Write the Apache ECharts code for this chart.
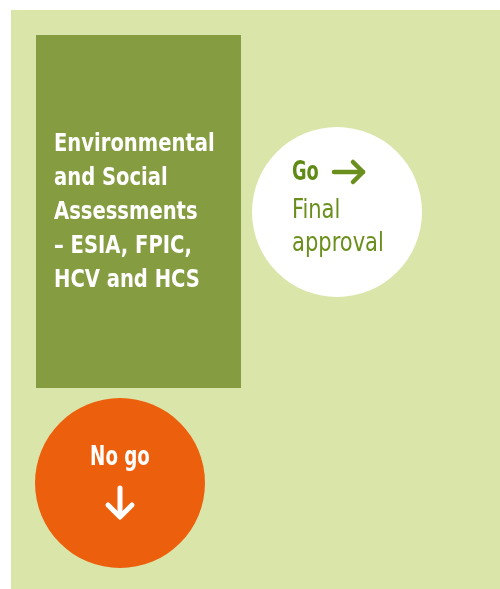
<!DOCTYPE html>
<html><head><meta charset="utf-8">
<script src="https://cdn.jsdelivr.net/npm/echarts@6/dist/echarts.min.js"></script>
<style>html,body{margin:0;padding:0;background:#fff}#c{width:500px;height:589px}</style>
</head><body><div id="c"></div>
<script>
var boxLines = ['Environmental', 'and Social', 'Assessments', '\u2013 ESIA, FPIC,', 'HCV and HCS'];
var goLabel = 'Go';
var goLines = ['Final', 'approval'];
var noGoLabel = 'No go';

var FONT = '"DejaVu Sans Condensed", "Liberation Sans Narrow", sans-serif';
var chart = echarts.init(document.getElementById('c'), null, {renderer: 'canvas'});
var g = [];
g.push({type: 'rect', shape: {x: 11, y: 10, width: 489, height: 579}, style: {fill: '#dae5a9'}});
g.push({type: 'rect', shape: {x: 36, y: 35, width: 205, height: 353}, style: {fill: '#859c41'}});
g.push({type: 'circle', shape: {cx: 337, cy: 212, r: 85}, style: {fill: '#ffffff'}});
g.push({type: 'circle', shape: {cx: 120, cy: 483, r: 85}, style: {fill: '#ec5f0c'}});
boxLines.forEach(function (t, i) {
  g.push({type: 'text', x: 54, y: 144 + i * 34, scaleX: 0.87, style: {text: t, fill: '#ffffff', font: 'bold 25px ' + FONT, verticalAlign: 'middle', align: 'left'}});
});
g.push({type: 'text', x: 292, y: 173, scaleX: 0.76, style: {text: goLabel, fill: '#5f8a14', font: 'bold 26px ' + FONT, verticalAlign: 'middle', align: 'left'}});
goLines.forEach(function (t, i) {
  g.push({type: 'text', x: 292, y: 211 + i * 33, scaleX: 0.9, style: {text: t, fill: '#6a8f1c', font: '26px ' + FONT, verticalAlign: 'middle', align: 'left'}});
});
g.push({type: 'polyline', shape: {points: [[334, 172], [363, 172]]}, style: {stroke: '#6a8f1c', lineWidth: 4.5, lineCap: 'round'}});
g.push({type: 'polyline', shape: {points: [[353, 162], [363, 172], [353, 182]]}, style: {stroke: '#6a8f1c', lineWidth: 4.5, lineCap: 'round', lineJoin: 'round', fill: null}});
g.push({type: 'text', x: 120, y: 458, scaleX: 0.78, style: {text: noGoLabel, fill: '#ffffff', font: 'bold 26px ' + FONT, verticalAlign: 'middle', align: 'center'}});
g.push({type: 'polyline', shape: {points: [[120, 488], [120, 516]]}, style: {stroke: '#ffffff', lineWidth: 5, lineCap: 'round'}});
g.push({type: 'polyline', shape: {points: [[108, 505], [120, 517], [132, 505]]}, style: {stroke: '#ffffff', lineWidth: 5, lineCap: 'round', lineJoin: 'round', fill: null}});
chart.setOption({animation: false, graphic: {elements: g}});
</script></body></html>
